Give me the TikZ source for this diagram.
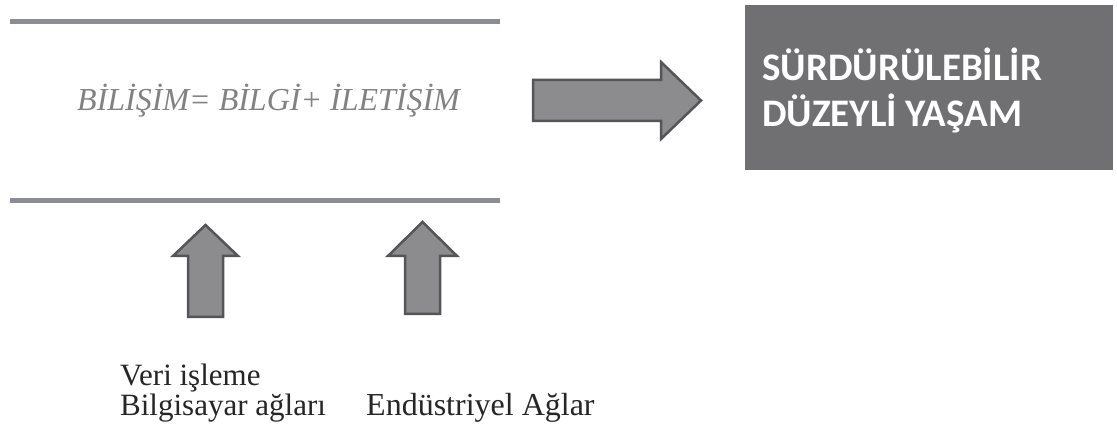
\documentclass[tikz,border=0pt]{standalone}
\usepackage{fontspec}
\setmainfont{Liberation Serif}
\newfontfamily\boxfont{Carlito}
\definecolor{rulegray}{RGB}{140,140,148}
\definecolor{arrowfill}{RGB}{140,140,142}
\definecolor{arrowedge}{RGB}{85,85,88}
\definecolor{boxgray}{RGB}{112,112,115}
\definecolor{formulagray}{RGB}{130,130,130}
\begin{document}
\begin{tikzpicture}[x=1pt,y=-1pt,
  rule/.style={line width=5pt, draw=rulegray},
  blockarrow/.style={fill=arrowfill, draw=arrowedge, line width=2.5pt, line join=miter},
  formula/.style={anchor=base west, inner sep=0pt, font=\fontsize{32}{38}\selectfont\itshape, text=formulagray},
  goaltext/.style={anchor=base west, inner sep=0pt, font=\boxfont\bfseries\fontsize{39}{46}\selectfont, text=white},
  label/.style={anchor=base west, inner sep=0pt, font=\fontsize{31}{36}\selectfont, text=black!85}]
\useasboundingbox (0,0) rectangle (1117,430);
\fill[white] (0,0) rectangle (1117,430);
% rules
\coordinate (r1a) at (10,22); \coordinate (r1b) at (500,22);
\coordinate (r2a) at (10,201); \coordinate (r2b) at (500,201);
\draw[rule] (r1a) -- (r1b);
\draw[rule] (r2a) -- (r2b);
% formula
\node[formula] (formula) at (77,111) {BİLİŞİM= BİLGİ+ İLETİŞİM};
% right block arrow
\draw[blockarrow] (533,80) -- (661,80) -- (661,62) -- (701,100.5) -- (661,139) -- (661,121) -- (533,121) -- cycle;
% goal box
\node[fill=boxgray, minimum width=368pt, minimum height=165pt, anchor=north west, inner sep=0pt] (goal) at (745,5) {};
\node[goaltext] (goal1) at (762,81) {SÜRDÜRÜLEBİLİR};
\node[goaltext] (goal2) at (762,127) {DÜZEYLİ YAŞAM};
% up block arrows
\draw[blockarrow] (188,317) -- (188,256) -- (173,256) -- (205.5,225) -- (238,256) -- (223,256) -- (223,317) -- cycle;
\draw[blockarrow] (405,314) -- (405,256) -- (388,256) -- (422.5,222) -- (457,256) -- (440,256) -- (440,314) -- cycle;
% labels
\node[label] (lab1) at (120,385) {Veri işleme};
\node[label] (lab2) at (120,415) {Bilgisayar ağları};
\node[label, font=\fontsize{32}{36}\selectfont] (lab3) at (366,415) {Endüstriyel Ağlar};
\end{tikzpicture}
\end{document}
